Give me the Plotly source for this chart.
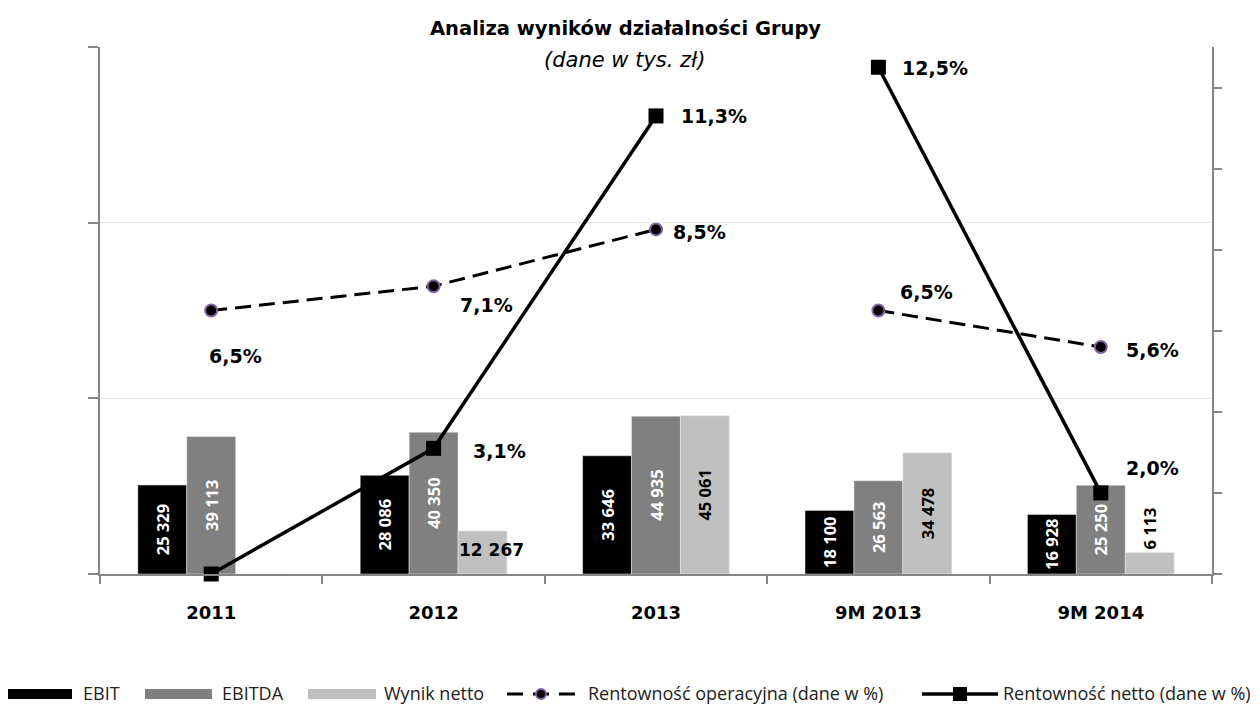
import plotly.graph_objects as go

categories = ["2011", "2012", "2013", "9M 2013", "9M 2014"]
ebit = [25329, 28086, 33646, 18100, 16928]
ebitda = [39113, 40350, 44935, 26563, 25250]
net_result = [0, 12267, 45061, 34478, 6113]
op_margin = [6.5, 7.1, 8.5, 6.5, 5.6]
net_margin = [0.0, 3.1, 11.3, 12.5, 2.0]

FONT = "Open Sans"
WIDE = "DejaVu Sans"
GREY_AXIS = "#868686"

# page body has an 8px margin, figure is shrunk so the plot lands where it should
PAGE = 8
W, H = 1260 - PAGE, 706 - PAGE
# plot area in screen pixels
L, R, T, B = 100, 1212, 47, 574


def px_x(px):
    return (px - L) / (R - L)


def px_y(py):
    return (B - py) / (B - T)


def fmt_k(v):
    return f"{v:,}".replace(",", " ")


def fmt_pct(v):
    return f"{v:.1f}".replace(".", ",") + "%"


fig = go.Figure()

fig.add_trace(go.Bar(x=categories, y=ebit, name="EBIT", marker_color="#000000",
                     text=[fmt_k(v) for v in ebit], textposition="inside",
                     insidetextanchor="middle", textangle=-90,
                     textfont=dict(color="white", size=16.5, family=FONT, weight="bold")))
fig.add_trace(go.Bar(x=categories, y=ebitda, name="EBITDA", marker_color="#808080",
                     text=[fmt_k(v) for v in ebitda], textposition="inside",
                     insidetextanchor="middle", textangle=-90,
                     textfont=dict(color="white", size=16.5, family=FONT, weight="bold")))
net_text = ["", "", fmt_k(net_result[2]), fmt_k(net_result[3]), fmt_k(net_result[4])]
fig.add_trace(go.Bar(x=categories, y=net_result, name="Wynik netto", marker_color="#c0c0c0",
                     text=net_text,
                     textposition=["none", "none", "inside", "inside", "outside"],
                     insidetextanchor="middle", textangle=-90,
                     textfont=dict(color="black", size=16.5, family=FONT, weight="bold"),
                     cliponaxis=False))

# lines are split: full years vs nine-month periods
segments = [(0, 3), (3, 5)]
for a, b in segments:
    fig.add_trace(go.Scatter(x=categories[a:b], y=op_margin[a:b], yaxis="y2",
                             mode="lines+markers", showlegend=False, cliponaxis=False,
                             line=dict(color="black", width=3, dash="16px,8px"),
                             marker=dict(symbol="circle", size=12, color="black",
                                         line=dict(color="#8064a2", width=2))))
    fig.add_trace(go.Scatter(x=categories[a:b], y=net_margin[a:b], yaxis="y2",
                             mode="lines+markers", showlegend=False, cliponaxis=False,
                             line=dict(color="black", width=3.5),
                             marker=dict(symbol="square", size=15, color="black")))

annotations = []
# percentage labels (left edge offset, vertical offset in px); x given as category index
op_off = [(-4, -45), (24, -19), (15, -3), (20, 19), (23, -3)]
net_off = [None, (37, -3), (23, 0), (22, -1), (23, 25)]
pct_font = dict(size=19, color="black", family=WIDE, weight="bold")
for i, c in enumerate(categories):
    dx, dy = op_off[i]
    annotations.append(dict(x=i, y=op_margin[i], yref="y2", text=fmt_pct(op_margin[i]),
                            showarrow=False, xanchor="left", yanchor="middle",
                            xshift=dx, yshift=dy, font=pct_font))
    if net_off[i] is not None:
        dx, dy = net_off[i]
        annotations.append(dict(x=i, y=net_margin[i], yref="y2", text=fmt_pct(net_margin[i]),
                                showarrow=False, xanchor="left", yanchor="middle",
                                xshift=dx, yshift=dy, font=pct_font))

# small net result label shown horizontally
annotations.append(dict(x=1, y=net_result[1] / 2, text=fmt_k(net_result[1]),
                        showarrow=False, xshift=58, yshift=2, yanchor="middle",
                        font=dict(size=17, color="black", family=WIDE, weight="bold")))

annotations.append(dict(xref="paper", yref="paper", x=px_x(625), y=px_y(29),
                        text="Analiza wyników działalności Grupy", showarrow=False,
                        yanchor="middle",
                        font=dict(size=19.5, color="black", family=WIDE, weight="bold")))
annotations.append(dict(xref="paper", yref="paper", x=px_x(624), y=px_y(60),
                        text="<i>(dane w tys. zł)</i>", showarrow=False, yanchor="middle",
                        font=dict(size=21, color="black", family=WIDE)))

# legend drawn by hand to get the wide swatches
shapes = []
leg_y = 693
leg_font = dict(size=18, color="#222", family=FONT)
legend_bars = [("EBIT", "#000000", 6, 72, 81), ("EBITDA", "#808080", 145, 212, 220),
               ("Wynik netto", "#c0c0c0", 308, 376, 382)]
for name, col, x0, x1, tx in legend_bars:
    shapes.append(dict(type="rect", xref="paper", yref="paper", x0=px_x(x0), x1=px_x(x1),
                       y0=px_y(leg_y + 6), y1=px_y(leg_y - 4), fillcolor=col, line_width=0))
    annotations.append(dict(xref="paper", yref="paper", x=px_x(tx), y=px_y(leg_y),
                            xanchor="left", yanchor="middle", text=name, showarrow=False,
                            font=leg_font))

shapes.append(dict(type="line", xref="paper", yref="paper", x0=px_x(507), x1=px_x(575),
                   y0=px_y(leg_y + 1), y1=px_y(leg_y + 1),
                   line=dict(color="black", width=3, dash="16px,10px")))
shapes.append(dict(type="circle", xref="paper", yref="paper", xsizemode="pixel", ysizemode="pixel",
                   xanchor=px_x(541), yanchor=px_y(leg_y + 1), x0=-5, x1=5, y0=-5, y1=5,
                   fillcolor="black", line=dict(color="#8064a2", width=2)))
annotations.append(dict(xref="paper", yref="paper", x=px_x(586), y=px_y(leg_y), xanchor="left",
                        yanchor="middle", text="Rentowność operacyjna (dane w %)",
                        showarrow=False, font=leg_font))
shapes.append(dict(type="line", xref="paper", yref="paper", x0=px_x(922), x1=px_x(998),
                   y0=px_y(leg_y + 1), y1=px_y(leg_y + 1), line=dict(color="black", width=3.5)))
shapes.append(dict(type="rect", xref="paper", yref="paper", xsizemode="pixel", ysizemode="pixel",
                   xanchor=px_x(960), yanchor=px_y(leg_y + 1), x0=-7, x1=7, y0=-7, y1=7,
                   fillcolor="black", line_width=0))
annotations.append(dict(xref="paper", yref="paper", x=px_x(1001), y=px_y(leg_y), xanchor="left",
                        yanchor="middle", text="Rentowność netto (dane w %)",
                        showarrow=False, font=leg_font))

fig.update_layout(
    width=W, height=H,
    margin=dict(l=L - PAGE, r=W - (R - PAGE), t=T - PAGE, b=H - (B - PAGE), autoexpand=False),
    plot_bgcolor="white", paper_bgcolor="white",
    barmode="group", bargap=0.34, bargroupgap=0,
    showlegend=False,
    uniformtext=dict(minsize=16.5, mode="show"),
    font=dict(family=FONT),
    annotations=annotations, shapes=shapes,
    xaxis=dict(type="category", range=[-0.5, len(categories) - 0.5],
               showline=True, linecolor=GREY_AXIS, linewidth=2, ticks="outside",
               tickson="boundaries", ticklen=8, tickcolor=GREY_AXIS, tickwidth=2,
               ticklabelstandoff=21, tickangle=0, automargin=False,
               tickfont=dict(size=18, color="black", family=WIDE, weight="bold")),
    yaxis=dict(range=[0, 150000], dtick=50000, showticklabels=False, showline=True,
               linecolor=GREY_AXIS, linewidth=2, ticks="outside", ticklen=10,
               tickcolor=GREY_AXIS, tickwidth=2, showgrid=True, gridcolor="#ebe7da",
               zeroline=False, automargin=False),
    yaxis2=dict(range=[0, 13], dtick=2, overlaying="y", side="right", showticklabels=False,
                showline=True, linecolor=GREY_AXIS, linewidth=2, ticks="outside", ticklen=8,
                tickcolor=GREY_AXIS, tickwidth=2, showgrid=False, zeroline=False,
                automargin=False),
)

fig.write_html("out.html")
